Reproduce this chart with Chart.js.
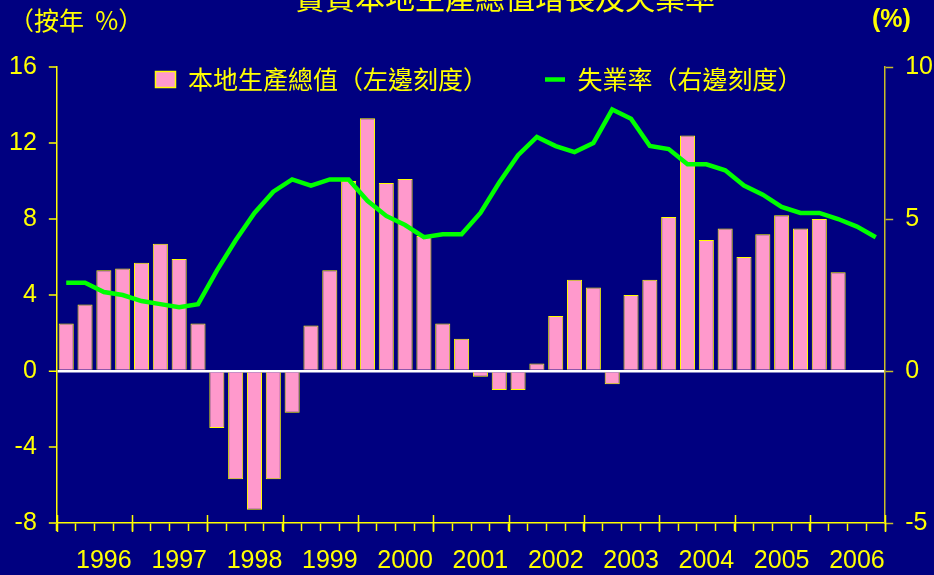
<!DOCTYPE html>
<html>
<head>
<meta charset="utf-8">
<script src="https://cdn.jsdelivr.net/npm/chart.js@4/dist/chart.umd.min.js"></script>
<style>
  html, body { margin: 0; padding: 0; background: #000080; }
  #wrap { position: relative; width: 934px; height: 575px; overflow: hidden; background: #000080; }
  #c { position: absolute; left: 0; top: 0; }
  .txt { position: absolute; color: #FFFF00; white-space: nowrap; }
  #title { left: 295px; top: -19px; font: 30px/30px "Noto Sans CJK TC", sans-serif; }
  #unitL { left: 9px; top: 7px; font: 25px/25px "Noto Sans CJK TC", sans-serif; }
  #unitR { left: 872px; top: 6px; font: bold 25px/25px "Liberation Sans", Arial, sans-serif; }
</style>
</head>
<body>
<div id="wrap">
  <canvas id="c" width="934" height="575"></canvas>
  <div class="txt" id="title">實質本地生產總值增長及失業率</div>
  <div class="txt" id="unitL">（按年&nbsp;&nbsp;%）</div>
  <div class="txt" id="unitR">(%)</div>
</div>
<script>
// ---- data ----
const years = ['1996','1997','1998','1999','2000','2001','2002','2003','2004','2005','2006'];
const quarters = ['Q1','Q2','Q3','Q4'];
const categories = [];
years.forEach(y => quarters.forEach(q => categories.push(y + ' ' + q)));

const gdpGrowth = [2.5, 3.5, 5.3, 5.4, 5.7, 6.7, 5.9, 2.5,
                   -3.0, -5.7, -7.3, -5.7, -2.2, 2.4, 5.3, 10.0,
                   13.3, 9.9, 10.1, 7.1, 2.5, 1.7, -0.3, -1.0,
                   -1.0, 0.4, 2.9, 4.8, 4.4, -0.7, 4.0, 4.8,
                   8.1, 12.4, 6.9, 7.5, 6.0, 7.2, 8.2, 7.5,
                   8.0, 5.2, null, null];
const unemployment = [2.9, 2.9, 2.6, 2.5, 2.3, 2.2, 2.1, 2.2,
                      3.3, 4.3, 5.2, 5.9, 6.3, 6.1, 6.3, 6.3,
                      5.6, 5.1, 4.8, 4.4, 4.5, 4.5, 5.2, 6.2,
                      7.1, 7.7, 7.4, 7.2, 7.5, 8.6, 8.3, 7.4,
                      7.3, 6.8, 6.8, 6.6, 6.1, 5.8, 5.4, 5.2,
                      5.2, 5.0, 4.75, 4.4];
const leftTicks = [-8, -4, 0, 4, 8, 12, 16];
const rightTicks = [-5, 0, 5, 10];
const gdpLabel = '本地生產總值（左邊刻度）';
const unempLabel = '失業率（右邊刻度）';

const YELLOW = '#FFFF00';
const tickFont = { family: '"Liberation Sans", Arial, sans-serif', size: 25 };

// upward parts of the yearly major ticks on the x axis
const majorTicks = {
  id: 'majorTicks',
  afterDraw(chart) {
    const xs = chart.scales.x, ctx = chart.ctx;
    ctx.save();
    ctx.strokeStyle = YELLOW;
    ctx.lineWidth = 1.5;
    for (let k = 0; k <= years.length; k++) {
      const px = Math.round(xs.getPixelForValue(k * 4 - 0.5)) + 0.5;
      ctx.beginPath();
      ctx.moveTo(px, xs.top - 8);
      ctx.lineTo(px, xs.top + 9);
      ctx.stroke();
    }
    ctx.restore();
  }
};

// move the legend box down so it sits inside the plot area, like the original
const legendInside = {
  id: 'legendInside',
  afterLayout(chart) {
    const L = chart.legend;
    if (!L) return;
    const h = L.height;
    L.top = chart.chartArea.top - 2;
    L.bottom = L.top + h;
    L.left += 8;
    L.right += 8;
  }
};

new Chart(document.getElementById('c'), {
  data: {
    labels: categories,
    datasets: [
      {
        type: 'bar',
        label: gdpLabel,
        data: gdpGrowth,
        yAxisID: 'y',
        backgroundColor: '#FF99CC',
        borderColor: YELLOW,
        borderWidth: 1,
        barPercentage: 0.8,
        categoryPercentage: 1.0,
        order: 1
      },
      {
        type: 'line',
        label: unempLabel,
        data: unemployment,
        yAxisID: 'y1',
        borderColor: '#00FF00',
        backgroundColor: '#00FF00',
        borderWidth: 4.5,
        pointRadius: 0,
        tension: 0,
        order: 0
      }
    ]
  },
  options: {
    responsive: false,
    animation: false,
    layout: { padding: { left: -3, right: -11, top: 30, bottom: -16 } },
    plugins: {
      tooltip: { enabled: false },
      title: { display: false },
      legend: {
        position: 'top',
        align: 'center',
        labels: {
          color: YELLOW,
          font: { family: '"Noto Sans CJK TC", sans-serif', size: 25 },
          usePointStyle: true,
          pointStyleWidth: 20,
          boxHeight: 16,
          padding: 2,
          sort: (a, b) => a.datasetIndex - b.datasetIndex,
          generateLabels(chart) {
            const items = Chart.defaults.plugins.legend.labels.generateLabels(chart);
            return items.map(it => {
              if (it.datasetIndex === 0) {
                it.pointStyle = 'rect';
                it.fillStyle = '#FF99CC';
                it.strokeStyle = YELLOW;
                it.lineWidth = 1.5;
                it.text = gdpLabel + '\u3000\u3000\u2002\u2009';
              } else {
                it.pointStyle = 'line';
                it.strokeStyle = '#00FF00';
                it.lineWidth = 4.5;
              }
              return it;
            });
          }
        }
      }
    },
    scales: {
      x: {
        type: 'category',
        offset: true,
        grid: {
          offset: true,
          drawOnChartArea: false,
          drawTicks: true,
          tickLength: 8,
          tickColor: YELLOW,
          tickWidth: 1.5
        },
        border: { display: true, color: YELLOW, width: 1.5 },
        ticks: {
          autoSkip: false,
          maxRotation: 0,
          minRotation: 0,
          color: YELLOW,
          font: tickFont,
          padding: 15,
          callback: (v, i) => (i % 4 === 2 ? years[Math.floor(i / 4)] : '')
        }
      },
      y: {
        type: 'linear',
        position: 'left',
        min: leftTicks[0],
        max: leftTicks[leftTicks.length - 1],
        afterBuildTicks: s => { s.ticks = leftTicks.map(v => ({ value: v })); },
        grid: {
          drawOnChartArea: true,
          drawTicks: true,
          tickLength: 8,
          color: ctx => (ctx.tick && ctx.tick.value === 0 ? '#FFFFFF' : 'rgba(0,0,0,0)'),
          lineWidth: ctx => (ctx.tick && ctx.tick.value === 0 ? 2.5 : 0),
          tickColor: YELLOW,
          tickWidth: 1.5
        },
        border: { display: true, color: YELLOW, width: 1.5 },
        ticks: { color: YELLOW, font: tickFont, padding: 12 }
      },
      y1: {
        type: 'linear',
        position: 'right',
        min: rightTicks[0],
        max: rightTicks[rightTicks.length - 1],
        afterBuildTicks: s => { s.ticks = rightTicks.map(v => ({ value: v })); },
        grid: {
          drawOnChartArea: false,
          drawTicks: true,
          tickLength: 8,
          tickColor: '#C8BE28',
          tickWidth: 1.5
        },
        border: { display: true, color: '#C8BE28', width: 1.5 },
        ticks: { color: YELLOW, font: tickFont, padding: 12 }
      }
    }
  },
  plugins: [majorTicks, legendInside]
});
</script>
</body>
</html>
